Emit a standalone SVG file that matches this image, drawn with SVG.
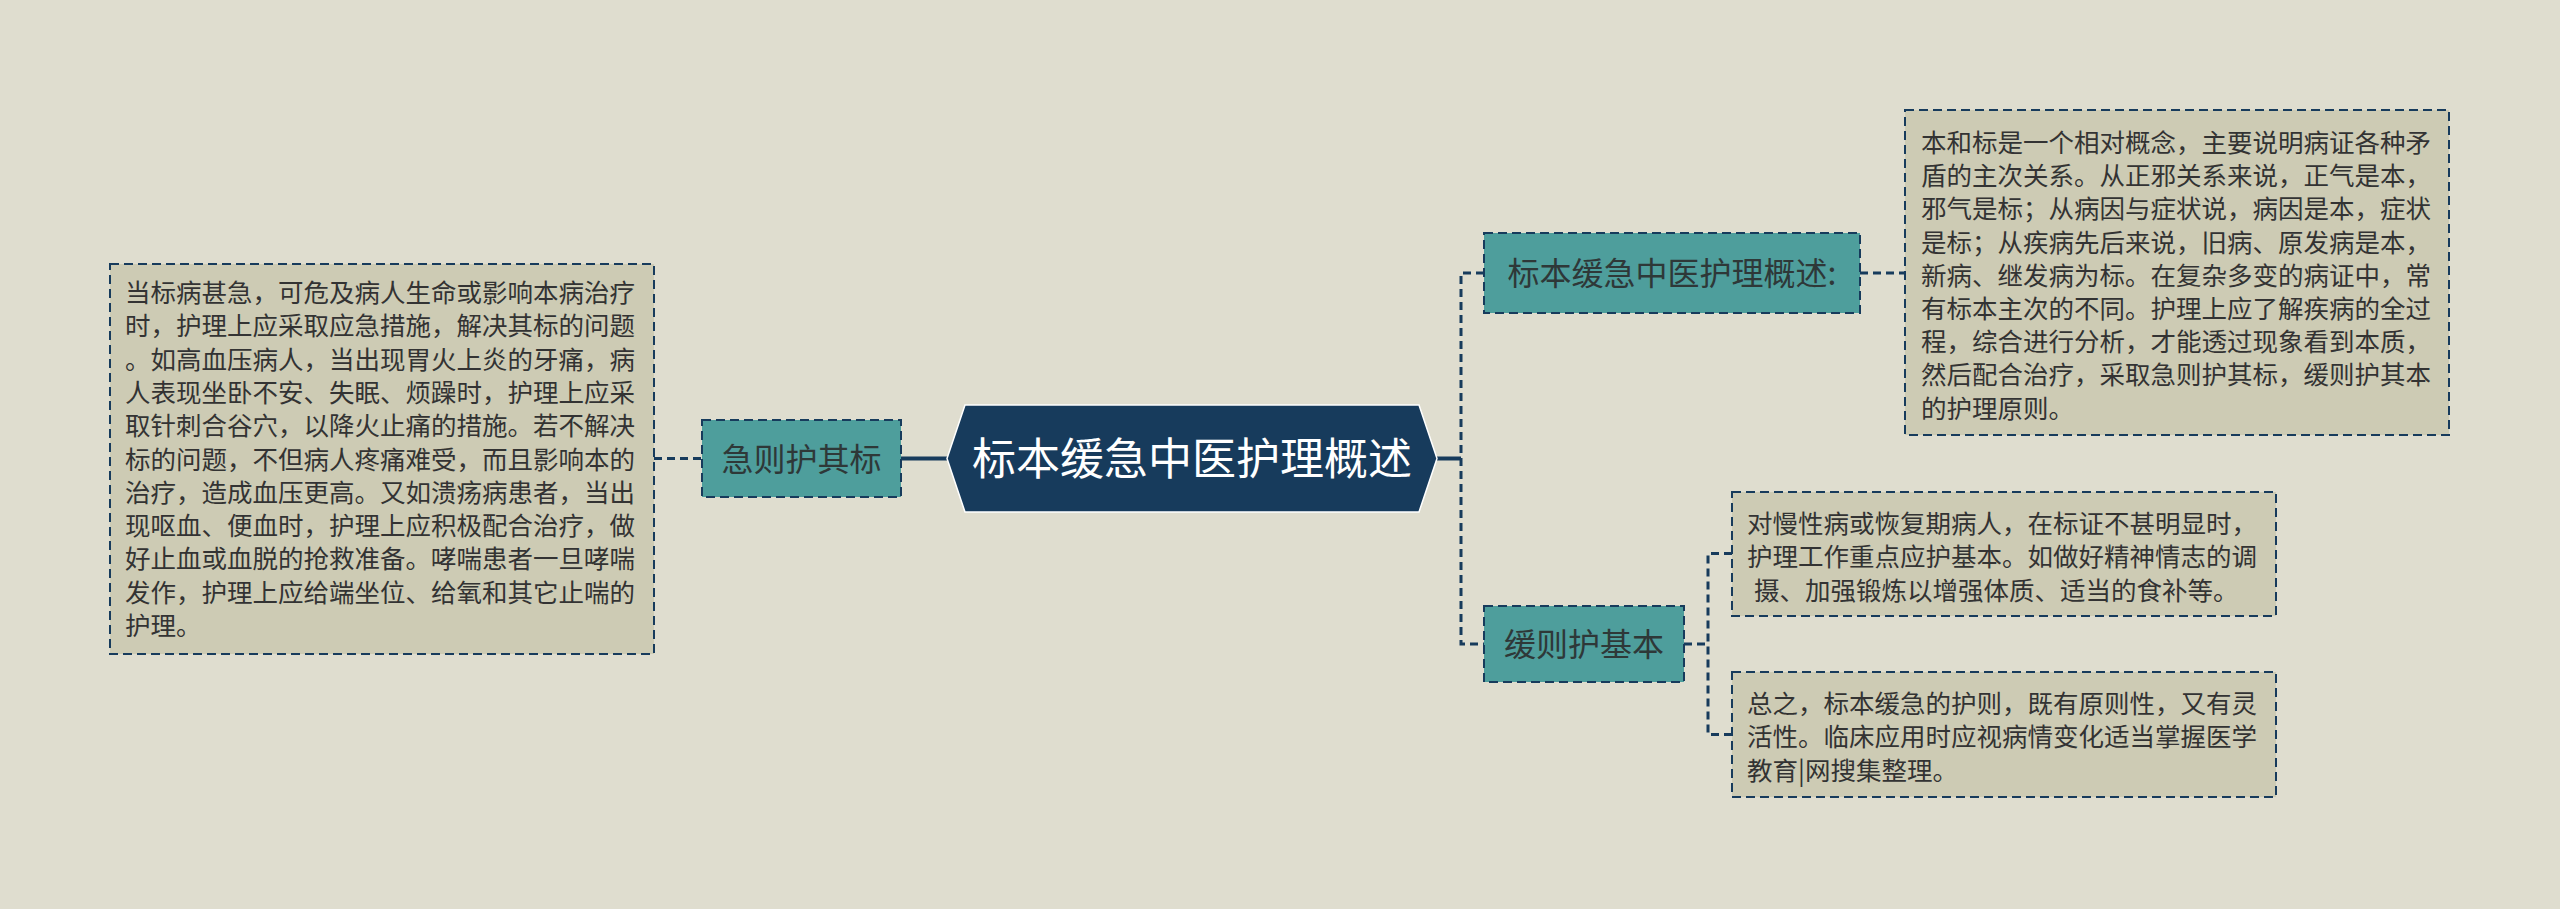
<svg xmlns="http://www.w3.org/2000/svg" width="2560" height="909" viewBox="0 0 2560 909">
<style>
.bg{fill:#DFDDCF}
.tbox{fill:#CDCBB4;stroke:#173B5C;stroke-width:2;stroke-dasharray:9 5}
.mbox{fill:#4E9E9C;stroke:#173B5C;stroke-width:2;stroke-dasharray:9 5}
.txt{font-family:"Noto Sans CJK SC","Liberation Sans",sans-serif;font-size:25.5px;fill:#333333}
.mtxt{font-family:"Noto Sans CJK SC","Liberation Sans",sans-serif;font-size:32px;fill:#2E3838;text-anchor:middle}
.rtxt{font-family:"Noto Sans CJK SC","Liberation Sans",sans-serif;font-size:44px;fill:#FFFFFF;text-anchor:middle}
.solid{stroke:#173B5C;stroke-width:4;fill:none}
.dash{stroke:#173B5C;stroke-width:3;fill:none;stroke-dasharray:8 5}
</style>
<rect class="bg" x="0" y="0" width="2560" height="909"/>
<g id="connectors">
<line class="solid" x1="901" y1="458.5" x2="947" y2="458.5"/>
<line class="dash" x1="654" y1="458.5" x2="702" y2="458.5"/>
<line class="solid" x1="1437" y1="458.5" x2="1461" y2="458.5"/>
<path class="dash" d="M1484 273 H1461 V644 H1484"/>
<line class="dash" x1="1860" y1="273" x2="1905" y2="273"/>
<path class="dash" d="M1732 553.5 H1708 V734.5 H1732"/>
<line class="dash" x1="1684" y1="644" x2="1708" y2="644"/>
</g>
<g id="root">
<polygon points="947,458.5 965,405 1419,405 1437,458.5 1419,512 965,512" fill="#173B5C" stroke="#FFFFFF" stroke-width="1.5"/>
<text class="rtxt" x="1192" y="475">标本缓急中医护理概述</text>
</g>
<g id="node-jizehu">
<rect class="mbox" x="702" y="420" width="199" height="77"/>
<text class="mtxt" x="801.5" y="470.5">急则护其标</text>
</g>
<g id="node-left-text">
<rect class="tbox" x="110" y="264" width="544" height="390"/>
<text class="txt" x="125">
<tspan x="125" y="302">当标病甚急，可危及病人生命或影响本病治疗</tspan>
<tspan x="125" y="335.3">时，护理上应采取应急措施，解决其标的问题</tspan>
<tspan x="125" y="368.6">。如高血压病人，当出现胃火上炎的牙痛，病</tspan>
<tspan x="125" y="401.9">人表现坐卧不安、失眠、烦躁时，护理上应采</tspan>
<tspan x="125" y="435.2">取针刺合谷穴，以降火止痛的措施。若不解决</tspan>
<tspan x="125" y="468.5">标的问题，不但病人疼痛难受，而且影响本的</tspan>
<tspan x="125" y="501.8">治疗，造成血压更高。又如溃疡病患者，当出</tspan>
<tspan x="125" y="535.1">现呕血、便血时，护理上应积极配合治疗，做</tspan>
<tspan x="125" y="568.4">好止血或血脱的抢救准备。哮喘患者一旦哮喘</tspan>
<tspan x="125" y="601.7">发作，护理上应给端坐位、给氧和其它止喘的</tspan>
<tspan x="125" y="635">护理。</tspan>
</text>
</g>
<g id="node-overview">
<rect class="mbox" x="1484" y="233" width="376" height="80"/>
<text class="mtxt" x="1672" y="285">标本缓急中医护理概述:</text>
</g>
<g id="node-overview-text">
<rect class="tbox" x="1905" y="110" width="544" height="325"/>
<text class="txt">
<tspan x="1921" y="152">本和标是一个相对概念，主要说明病证各种矛</tspan>
<tspan x="1921" y="185.2">盾的主次关系。从正邪关系来说，正气是本，</tspan>
<tspan x="1921" y="218.4">邪气是标；从病因与症状说，病因是本，症状</tspan>
<tspan x="1921" y="251.6">是标；从疾病先后来说，旧病、原发病是本，</tspan>
<tspan x="1921" y="284.8">新病、继发病为标。在复杂多变的病证中，常</tspan>
<tspan x="1921" y="318">有标本主次的不同。护理上应了解疾病的全过</tspan>
<tspan x="1921" y="351.2">程，综合进行分析，才能透过现象看到本质，</tspan>
<tspan x="1921" y="384.4">然后配合治疗，采取急则护其标，缓则护其本</tspan>
<tspan x="1921" y="417.6">的护理原则。</tspan>
</text>
</g>
<g id="node-huanzehu">
<rect class="mbox" x="1484" y="606" width="200" height="76"/>
<text class="mtxt" x="1584" y="656">缓则护基本</text>
</g>
<g id="node-chronic-text">
<rect class="tbox" x="1732" y="492" width="544" height="124"/>
<text class="txt">
<tspan x="1747" y="533">对慢性病或恢复期病人，在标证不甚明显时，</tspan>
<tspan x="1747" y="566.3">护理工作重点应护基本。如做好精神情志的调</tspan>
<tspan x="1754" y="599.6">摄、加强锻炼以增强体质、适当的食补等。</tspan>
</text>
</g>
<g id="node-summary-text">
<rect class="tbox" x="1732" y="672" width="544" height="125"/>
<text class="txt">
<tspan x="1747" y="713">总之，标本缓急的护则，既有原则性，又有灵</tspan>
<tspan x="1747" y="746.3">活性。临床应用时应视病情变化适当掌握医学</tspan>
<tspan x="1747" y="779.6">教育|网搜集整理。</tspan>
</text>
</g>
</svg>
